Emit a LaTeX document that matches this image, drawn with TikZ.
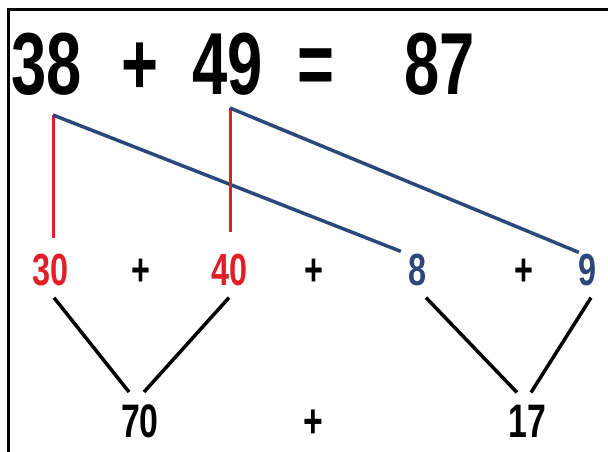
\documentclass[tikz,border=0pt]{standalone}
\usepackage{fontspec}
\newfontfamily\numfont{Liberation Sans}[FakeStretch=0.72]
\usetikzlibrary{calc}

\definecolor{numred}{RGB}{226,30,38}
\definecolor{numblue}{RGB}{42,72,122}

\tikzset{
  bignum/.style={inner sep=0pt, anchor=base, font=\numfont\bfseries\fontsize{88}{88}\selectfont},
  midnum/.style={inner sep=0pt, anchor=base, font=\numfont\bfseries\fontsize{45}{45}\selectfont},
  sumnum/.style={inner sep=0pt, anchor=base, font=\numfont\bfseries\fontsize{47}{47}\selectfont},
  redline/.style={numred, line width=3pt},
  blueline/.style={numblue, line width=3.5pt},
  sumline/.style={black, line width=3.5pt},
}

\begin{document}
\begin{tikzpicture}[x=1pt, y=-1pt]
  \useasboundingbox (0,0) rectangle (608,452);

  % frame (only top and left edge show)
  \draw[line width=3pt] (8,452) -- (8,10) -- (608,10);

  % the sum on top
  \node[bignum] (a38) at (46.5,95) {38};
  \node[bignum] (aplus) at (140,95) {+};
  \node[bignum] (a49) at (228,95) {49};
  \node[bignum] (aeq) at (316,95) {=};
  \node[bignum] (a87) at (440,95) {87};

  % tens and ones
  \foreach \nm/\x/\txt/\col in {n30/51/30/numred, p1/141/+/black, n40/230/40/numred,
      p2/314/+/black, n8/418/8/numblue, p3/524/+/black, n9/588/9/numblue} {
    \node[midnum, text=\col] (\nm) at (\x,285) {\txt};
  }

  % partial sums
  \node[sumnum] (n70) at (140,437) {70};
  \node[sumnum] (p4) at (313,437) {+};
  \node[sumnum] (n17) at (527,437) {17};

  % split 38 and 49
  \coordinate (k38) at (53,115);
  \coordinate (k49) at (230,108);

  \draw[redline] (k38) -- ([yshift=15pt]k38 |- n30.north);
  \draw[blueline] (k38) -- ([xshift=-8pt,yshift=2pt]n8.north west);
  \draw[redline] (k49) -- ([yshift=21pt]k49 |- n40.north);
  \draw[blueline] (k49) -- ([yshift=1pt]n9.north west);

  % add tens, add ones
  \draw[sumline] ([xshift=3pt,yshift=-12pt]n30.south) -- ([xshift=-11pt,yshift=12pt]n70.north);
  \draw[sumline] ([xshift=-1pt,yshift=-12pt]n40.south) -- ([xshift=4pt,yshift=12pt]n70.north);
  \draw[sumline] ([xshift=8pt,yshift=-12pt]n8.south) -- ([xshift=-10pt,yshift=12pt]n17.north);
  \draw[sumline] ([xshift=3pt,yshift=-12pt]n9.south) -- ([xshift=4pt,yshift=12pt]n17.north);
\end{tikzpicture}
\end{document}
